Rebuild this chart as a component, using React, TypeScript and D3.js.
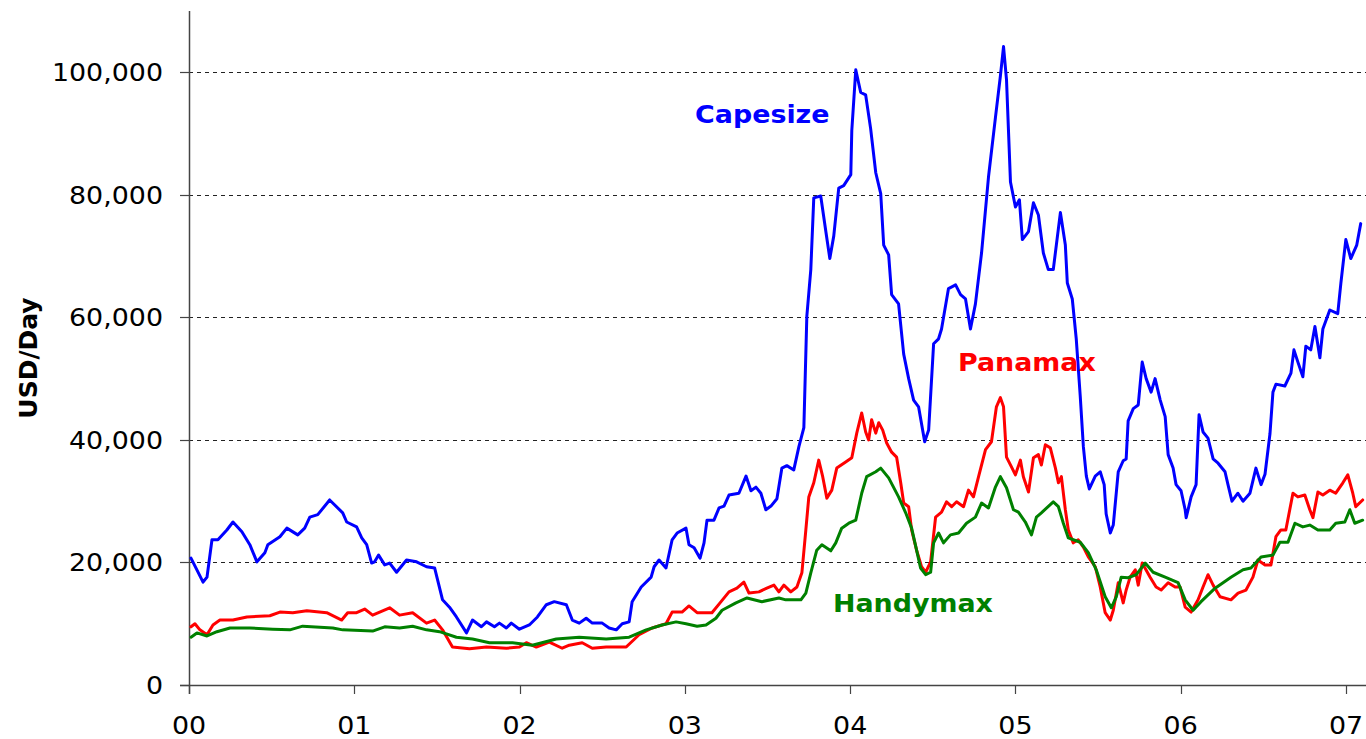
import React from "react";
import * as d3 from "d3";

// Time in years since 2000 (00 = Jan 2000), value in USD/day
const capesize: [number, number][] = [
  [0.012,20700],[0.085,16800],[0.109,17600],[0.139,23700],[0.175,23700],[0.229,25300],[0.266,26600],[0.320,25000],[0.368,22900],[0.411,20100],[0.459,21600],[0.477,22900],[0.550,24200],[0.592,25600],[0.658,24500],[0.700,25600],[0.731,27400],[0.779,27800],[0.851,30200],[0.930,28100],[0.954,26600],[1.014,25800],[1.045,24000],[1.075,22900],[1.105,19900],[1.123,20100],[1.147,21200],[1.184,19600],[1.214,19900],[1.256,18400],[1.316,20400],[1.377,20100],[1.437,19300],[1.486,19100],[1.534,13900],[1.576,12700],[1.618,11100],[1.679,8500],[1.715,10600],[1.769,9500],[1.800,10300],[1.848,9500],[1.878,10100],[1.920,9300],[1.950,10100],[1.999,9100],[2.059,9800],[2.108,11100],[2.162,13100],[2.210,13600],[2.283,13100],[2.319,10600],[2.361,10100],[2.403,10900],[2.440,10100],[2.500,10100],[2.542,9300],[2.585,9000],[2.621,10000],[2.663,10300],[2.681,13600],[2.736,16000],[2.796,17600],[2.814,19300],[2.844,20400],[2.886,19100],[2.923,23700],[2.953,24800],[3.007,25600],[3.025,22900],[3.056,22400],[3.092,20700],[3.116,23200],[3.134,26900],[3.176,26900],[3.207,28900],[3.237,29200],[3.267,31000],[3.327,31300],[3.370,34100],[3.400,31700],[3.430,32300],[3.460,31300],[3.490,28600],[3.521,29200],[3.557,30400],[3.587,35400],[3.617,35800],[3.659,35100],[3.690,38900],[3.720,42000],[3.738,60200],[3.762,67800],[3.780,79500],[3.822,79800],[3.853,74000],[3.877,69600],[3.901,73300],[3.931,81100],[3.961,81500],[4.004,83300],[4.010,90500],[4.034,100400],[4.064,96700],[4.094,96300],[4.124,90800],[4.155,83600],[4.185,80200],[4.203,71800],[4.233,70200],[4.251,63700],[4.293,62200],[4.324,54000],[4.354,50000],[4.384,46500],[4.414,45400],[4.451,39700],[4.475,41600],[4.505,55700],[4.535,56500],[4.553,58100],[4.595,64700],[4.638,65300],[4.668,63700],[4.698,63000],[4.728,58100],[4.758,62200],[4.795,70500],[4.837,82900],[4.879,92600],[4.909,99400],[4.928,104200],[4.946,98800],[4.970,82100],[5.000,78000],[5.024,79200],[5.042,72700],[5.079,74000],[5.109,78700],[5.139,76700],[5.169,70500],[5.199,67800],[5.229,67800],[5.272,77100],[5.302,71800],[5.314,65600],[5.344,63000],[5.368,56500],[5.392,47200],[5.411,38900],[5.429,34100],[5.447,32000],[5.483,34100],[5.513,34800],[5.537,32700],[5.549,27900],[5.574,24800],[5.592,26100],[5.622,34800],[5.652,36600],[5.670,36900],[5.682,43100],[5.713,45100],[5.743,45700],[5.767,52700],[5.791,50000],[5.821,47800],[5.845,50000],[5.876,46500],[5.906,43800],[5.924,37600],[5.954,35400],[5.972,32700],[6.002,31700],[6.027,28600],[6.033,27300],[6.063,30700],[6.093,32700],[6.111,44100],[6.135,41300],[6.165,40300],[6.196,36900],[6.226,36200],[6.268,34800],[6.286,32700],[6.310,30000],[6.346,31300],[6.377,30000],[6.419,31300],[6.455,35400],[6.486,32700],[6.510,34400],[6.540,41000],[6.558,47800],[6.576,49100],[6.630,48800],[6.667,50900],[6.685,54700],[6.709,52700],[6.739,50300],[6.757,55300],[6.787,54700],[6.812,58500],[6.842,53400],[6.860,58100],[6.902,61200],[6.950,60600],[6.969,65600],[6.999,72700],[7.029,69600],[7.065,71800],[7.089,75300]
];

const panamax: [number, number][] = [
  [0.012,9500],[0.036,10000],[0.066,9000],[0.109,8200],[0.145,9800],[0.187,10600],[0.266,10600],[0.350,11100],[0.489,11300],[0.550,11900],[0.628,11800],[0.713,12100],[0.833,11800],[0.924,10600],[0.960,11800],[1.014,11800],[1.063,12400],[1.111,11400],[1.214,12600],[1.274,11400],[1.353,11800],[1.437,10100],[1.486,10600],[1.534,9000],[1.594,6200],[1.697,5900],[1.800,6200],[1.920,6000],[1.999,6200],[2.041,6900],[2.101,6200],[2.180,7000],[2.258,6000],[2.301,6500],[2.379,6900],[2.440,6000],[2.524,6200],[2.645,6200],[2.723,8200],[2.802,9300],[2.886,10000],[2.923,11900],[2.983,11900],[3.025,12900],[3.074,11800],[3.116,11800],[3.164,11800],[3.219,13600],[3.267,15200],[3.315,15800],[3.357,16800],[3.388,15000],[3.448,15200],[3.496,15800],[3.539,16300],[3.569,15200],[3.599,16300],[3.641,15200],[3.678,16000],[3.708,18300],[3.732,25300],[3.750,30700],[3.780,33000],[3.810,36700],[3.834,34000],[3.859,30500],[3.889,31800],[3.919,35400],[3.973,36400],[4.010,37100],[4.040,41100],[4.070,44400],[4.094,41300],[4.112,40000],[4.130,43300],[4.155,41100],[4.173,42800],[4.197,41600],[4.221,39500],[4.251,38000],[4.281,37200],[4.306,33000],[4.324,29700],[4.354,29100],[4.372,25300],[4.402,22000],[4.432,19300],[4.457,18400],[4.487,20100],[4.517,27400],[4.553,28200],[4.583,29900],[4.614,29100],[4.644,29900],[4.686,29100],[4.716,31800],[4.746,30700],[4.777,34000],[4.819,38400],[4.855,39700],[4.885,45400],[4.909,46900],[4.928,45400],[4.946,37200],[4.976,35600],[5.000,34300],[5.030,36700],[5.048,34000],[5.079,31500],[5.109,37100],[5.139,37600],[5.157,35900],[5.181,39200],[5.211,38700],[5.242,35400],[5.260,33000],[5.278,34000],[5.302,28600],[5.320,25300],[5.350,23200],[5.380,23700],[5.411,22500],[5.441,20900],[5.483,19300],[5.513,16000],[5.543,11800],[5.574,10600],[5.592,12200],[5.622,16700],[5.652,13400],[5.670,15500],[5.694,17600],[5.725,18800],[5.743,16300],[5.767,19900],[5.815,17600],[5.851,16000],[5.882,15500],[5.924,16700],[5.966,16000],[5.996,16000],[6.027,12700],[6.063,11900],[6.105,13900],[6.135,16000],[6.165,18000],[6.196,16300],[6.238,14400],[6.304,13900],[6.347,15000],[6.395,15500],[6.437,17600],[6.467,20400],[6.510,19600],[6.546,19600],[6.576,24200],[6.606,25300],[6.636,25300],[6.679,31300],[6.709,30700],[6.751,31000],[6.781,28600],[6.800,27300],[6.830,31500],[6.860,31000],[6.902,31800],[6.938,31300],[6.981,33000],[7.011,34300],[7.041,31300],[7.059,29100],[7.101,30200]
];

const handymax: [number, number][] = [
  [0.012,7800],[0.048,8500],[0.109,8000],[0.169,8700],[0.248,9300],[0.368,9300],[0.507,9100],[0.610,9000],[0.688,9600],[0.870,9300],[0.930,9000],[1.111,8800],[1.184,9500],[1.274,9300],[1.353,9600],[1.437,9000],[1.516,8700],[1.618,7800],[1.715,7500],[1.818,6900],[1.957,6900],[2.077,6500],[2.222,7500],[2.361,7800],[2.524,7500],[2.663,7800],[2.766,9000],[2.862,9800],[2.947,10300],[3.007,10000],[3.074,9600],[3.128,9800],[3.188,10900],[3.225,12200],[3.309,13400],[3.376,14200],[3.466,13600],[3.569,14200],[3.611,13900],[3.702,13900],[3.732,15000],[3.762,18300],[3.798,22000],[3.829,22900],[3.883,21900],[3.913,23200],[3.949,25600],[3.992,26400],[4.034,26900],[4.070,31300],[4.100,34000],[4.155,34800],[4.185,35400],[4.233,33800],[4.293,30700],[4.336,28100],[4.372,25600],[4.402,22000],[4.426,19100],[4.457,18000],[4.487,18400],[4.505,23200],[4.535,24800],[4.565,23200],[4.607,24500],[4.656,24800],[4.704,26400],[4.758,27400],[4.795,29700],[4.837,28900],[4.879,32300],[4.909,34000],[4.946,32200],[4.988,28600],[5.018,28200],[5.060,26600],[5.097,24500],[5.127,27400],[5.157,28100],[5.229,29900],[5.260,29100],[5.290,26400],[5.320,24000],[5.392,23300],[5.441,21600],[5.489,18800],[5.543,14400],[5.580,12600],[5.610,14400],[5.640,17600],[5.682,17500],[5.731,18000],[5.785,19900],[5.833,18400],[5.906,17600],[5.984,16700],[6.027,13900],[6.075,12200],[6.123,13600],[6.208,15800],[6.304,17600],[6.377,18800],[6.425,19100],[6.486,20900],[6.558,21200],[6.600,23300],[6.649,23300],[6.691,26400],[6.739,25800],[6.781,26100],[6.830,25300],[6.902,25300],[6.938,26400],[6.993,26600],[7.023,28600],[7.053,26400],[7.101,26900]
];

const yTicks = [0, 20000, 40000, 60000, 80000, 100000];
const xTicks = [0, 1, 2, 3, 4, 5, 6, 7];
const xTickLabels = ["00", "01", "02", "03", "04", "05", "06", "07"];

const seriesList = [
  { name: "Capesize", data: capesize, color: "#0000ff", labelT: 3.062, labelV: 91700 },
  { name: "Panamax", data: panamax, color: "#ff0000", labelT: 4.652, labelV: 51300 },
  { name: "Handymax", data: handymax, color: "#008000", labelT: 3.896, labelV: 11900 },
];

const W = 1366;
const H = 739;
const left = 189;
const right = 1366;
const top = 11;
const bottom = 685;

export default function App() {
  const x = d3.scaleLinear().domain([0, 7]).range([left, 1346]);
  const y = d3.scaleLinear().domain([0, 110000]).range([bottom, top]);
  const line = d3
    .line<[number, number]>()
    .x((d) => x(d[0]))
    .y((d) => y(d[1]))
    .curve(d3.curveLinear);
  const fmt = d3.format(",");
  const font = "'DejaVu Sans', Verdana, sans-serif";

  return (
    <svg
      width={W}
      height={H}
      viewBox={`0 0 ${W} ${H}`}
      style={{ position: "absolute", left: 0, top: 0, display: "block", background: "#fff" }}
    >
      <rect x={0} y={0} width={W} height={H} fill="#fff" />
      {yTicks.filter((t) => t > 0).map((t) => (
        <line
          key={"g" + t}
          x1={left}
          x2={right}
          y1={Math.round(y(t)) + 0.5}
          y2={Math.round(y(t)) + 0.5}
          stroke="#222"
          strokeWidth={1}
          strokeDasharray="4,4"
        />
      ))}
      {yTicks.map((t) => (
        <g key={"y" + t}>
          <line x1={180} x2={left} y1={Math.round(y(t)) + 0.5} y2={Math.round(y(t)) + 0.5} stroke="#444" strokeWidth={1.2} />
          <text
            transform={`translate(163,${y(t) + 9}) scale(1.12,1)`}
            textAnchor="end"
            fontFamily={font}
            fontSize={24}
            fill="#000"
          >
            {fmt(t)}
          </text>
        </g>
      ))}
      {xTicks.map((t, i) => (
        <g key={"x" + t}>
          <line x1={Math.round(x(t)) + 0.5} x2={Math.round(x(t)) + 0.5} y1={bottom} y2={bottom + 9} stroke="#444" strokeWidth={1.2} />
          <text
            transform={`translate(${x(t)},734) scale(1.12,1)`}
            textAnchor="middle"
            fontFamily={font}
            fontSize={24}
            fill="#000"
          >
            {xTickLabels[i]}
          </text>
        </g>
      ))}
      <line x1={left + 0.5} x2={left + 0.5} y1={top} y2={bottom + 9} stroke="#444" strokeWidth={1.5} />
      <line x1={180} x2={right} y1={bottom + 0.5} y2={bottom + 0.5} stroke="#444" strokeWidth={1.5} />
      {seriesList.map((s) => (
        <path
          key={s.name}
          d={line(s.data) || ""}
          fill="none"
          stroke={s.color}
          strokeWidth={3}
          strokeLinejoin="round"
          strokeLinecap="round"
        />
      ))}
      {seriesList.map((s) => (
        <text
          key={"l" + s.name}
          transform={`translate(${x(s.labelT)},${y(s.labelV)}) scale(1.12,1)`}
          fontFamily={font}
          fontWeight="bold"
          fontSize={24}
          fill={s.color}
        >
          {s.name}
        </text>
      ))}
      <text
        transform="translate(37,358) rotate(-90)"
        textAnchor="middle"
        fontFamily={font}
        fontWeight="bold"
        fontSize={25}
        fill="#000"
      >
        USD/Day
      </text>
    </svg>
  );
}
